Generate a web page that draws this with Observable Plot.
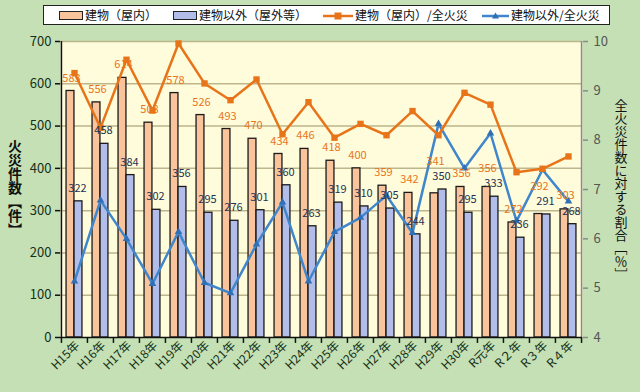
<!DOCTYPE html>
<html><head><meta charset="utf-8">
<script src="https://cdn.jsdelivr.net/npm/d3@7"></script>
<script src="https://cdn.jsdelivr.net/npm/@observablehq/plot@0.6"></script>
<style>
body{margin:0;background:#c4e0b4;font-family:"Noto Sans CJK JP",sans-serif;}
#wrap{width:640px;height:392px;position:relative;overflow:hidden;}
#legend{position:relative;height:30px;}
#box{position:absolute;left:43px;top:5px;width:565px;height:18px;border:1.5px solid #222;background:#fff;}
.it{position:absolute;top:0;height:18px;line-height:18px;font-size:12px;color:#111;white-space:nowrap;}
.sw{display:inline-block;width:22px;height:7px;border:1px solid #222;vertical-align:middle;margin-right:2px;position:relative;top:-1px;}
.ln{vertical-align:middle;margin-right:2px;position:relative;top:-1px;}
</style></head>
<body><div id="wrap">
<div id="legend"><div id="box">
<div class="it" style="left:15px"><span class="sw" style="background:#f9c39c"></span>建物（屋内）</div>
<div class="it" style="left:129px"><span class="sw" style="background:#b3bde9"></span>建物以外（屋外等）</div>
<div class="it" style="left:279px"><svg class="ln" width="30" height="8"><line x1="0" y1="4" x2="30" y2="4" stroke="#e8741a" stroke-width="2.5"/><rect x="11.5" y="0.5" width="7" height="7" fill="#e8741a"/></svg>建物（屋内）/全火災</div>
<div class="it" style="left:438px"><svg class="ln" width="27" height="8"><line x1="0" y1="4" x2="27" y2="4" stroke="#3f86cc" stroke-width="2.5"/><path d="M13.5,0.5 L17,6.5 L10,6.5 Z" fill="#2f6fb5"/></svg>建物以外/全火災</div>
</div></div>
<div id="chart"></div>
</div>
<script>
const years = ["H15年","H16年","H17年","H18年","H19年","H20年","H21年","H22年","H23年","H24年","H25年","H26年","H27年","H28年","H29年","H30年","R元年","R２年","R３年","R４年"];
const indoor = [583,556,614,508,578,526,493,470,434,446,418,400,359,342,341,356,356,272,292,303];
const outdoor = [322,458,384,302,356,295,276,301,360,263,319,310,305,244,350,295,333,236,291,268];
const indoorRatio = [9.36,8.25,9.63,8.60,9.96,9.15,8.81,9.23,8.12,8.77,8.05,8.33,8.10,8.59,8.10,8.96,8.72,7.35,7.42,7.67];
const outdoorRatio = [5.14,6.78,6.00,5.09,6.14,5.11,4.90,5.89,6.74,5.14,6.14,6.43,6.88,6.12,8.33,7.43,8.14,6.36,7.40,6.76];
const leftTicks = [0,100,200,300,400,500,600,700];
const rightTicks = [4,5,6,7,8,9,10];

const toLeft = r => (r - 4) * 700 / 6;
const rows = years.map((y, i) => ({year: y, indoor: indoor[i], outdoor: outdoor[i], ir: toLeft(indoorRatio[i]), or: toLeft(outdoorRatio[i])}));
// keep the indoor label clear of the outdoor label when the two bars are nearly equal
const indoorLabelY = d => Math.max(d.indoor, d.outdoor + 36);

const W = 640, H = 362, mL = 60, mR = 58, mT = 11, mB = 55;
const bw = (W - mL - mR) / years.length;
const half = bw / 2;
const font = '"Noto Sans CJK JP", sans-serif';

const chart = Plot.plot({
  width: W, height: H, marginTop: mT, marginBottom: mB, marginLeft: mL, marginRight: mR,
  style: {background: "transparent", fontFamily: font, fontSize: "12px", overflow: "visible"},
  x: {domain: years, padding: 0, label: null, axis: null},
  y: {domain: [0, 700], label: null, axis: null},
  marks: [
    Plot.frame({fill: "#fffcdc", stroke: "none"}),
    Plot.ruleY(leftTicks.slice(1), {stroke: "#bdb68c", strokeWidth: 1.5}),
    Plot.barY(rows, {x: "year", y: "indoor", fill: "#f9c39c", stroke: "#1a1a1a", strokeWidth: 1.3, insetLeft: half - 8, insetRight: half}),
    Plot.barY(rows, {x: "year", y: "outdoor", fill: "#b3bde9", stroke: "#1a1a1a", strokeWidth: 1.3, insetLeft: half, insetRight: half - 8}),
    Plot.ruleX([years[0]], {dx: -half, y1: 0, y2: 700, stroke: "#111", strokeWidth: 1.5}),
    Plot.ruleX([years[years.length - 1]], {dx: half, y1: 0, y2: 700, stroke: "#8a8a8a", strokeWidth: 1.5}),
    Plot.ruleY([0], {stroke: "#111", strokeWidth: 1.5}),
    Plot.line(rows, {x: "year", y: "or", stroke: "#3f86cc", strokeWidth: 2.5}),
    Plot.dot(rows, {x: "year", y: "or", symbol: "triangle", r: 2.8, fill: "#2f6fb5", stroke: "none"}),
    Plot.line(rows, {x: "year", y: "ir", stroke: "#e8741a", strokeWidth: 2.5}),
    Plot.dot(rows, {x: "year", y: "ir", symbol: "square", r: 3.6, fill: "#e8741a", stroke: "none"}),
    Plot.text(rows, {x: "year", y: indoorLabelY, text: d => String(d.indoor), dx: -3, dy: -13, fill: "#e8741a", fontSize: 11}),
    Plot.text(rows, {x: "year", y: "outdoor", text: d => String(d.outdoor), dx: 3, dy: -13, fill: "#24324f", fontSize: 11}),
    Plot.ruleX(years, {dx: -half, y1: 0, y2: -14, stroke: "#111", strokeWidth: 1.5}),
    Plot.ruleX([years[years.length - 1]], {dx: half, y1: 0, y2: -14, stroke: "#111", strokeWidth: 1.5}),
    Plot.axisX({tickSize: 0, tickPadding: 6, tickRotate: -45, fontSize: 12, fill: "#16301a", dx: 3}),
    Plot.axisY(leftTicks, {anchor: "left", tickSize: 5, tickPadding: 4, stroke: "#111", strokeWidth: 1.5, fill: "#16301a", fontSize: 13, label: null}),
    Plot.axisY(rightTicks.map(toLeft), {anchor: "right", tickSize: 5, tickPadding: 6, stroke: "#8a8a8a", strokeWidth: 1.5, fill: "#555", fontSize: 13, label: null, tickFormat: d => String(Math.round(d * 6 / 700 + 4))})
  ]
});
document.getElementById("chart").appendChild(chart);

const svg = d3.select(chart);
svg.append("text").attr("x", 15).attr("y", 158)
  .attr("text-anchor", "middle").attr("font-size", 14).attr("font-weight", "bold")
  .attr("fill", "#111").style("writing-mode", "vertical-rl").style("font-family", font)
  .text("火災件数【件】");
svg.append("text").attr("x", 621).attr("y", 160)
  .attr("text-anchor", "middle").attr("font-size", 13)
  .attr("fill", "#111").style("writing-mode", "vertical-rl").style("font-family", font)
  .text("全火災件数に対する割合［％］");
</script>
</body></html>
